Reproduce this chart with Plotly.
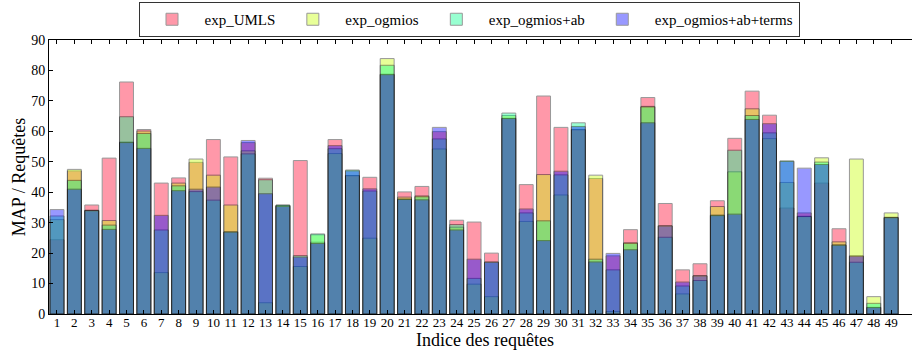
import plotly.graph_objects as go

queries = list(range(1, 50))
tick_labels = [str(q) for q in queries]

exp_UMLS = [24.4, 47.0, 35.8, 51.2, 76.2, 60.6, 43.0, 44.7, 49.8, 57.3, 51.6, 56.3, 44.6, 35.5, 50.4, 23.6, 57.3,
            45.5, 44.9, 78.8, 40.1, 41.9, 59.9, 30.8, 30.2, 20.0, 64.3, 42.5, 71.6, 61.3, 60.6, 44.5, 19.1, 27.7,
            71.1, 36.3, 14.5, 16.5, 37.2, 57.7, 73.2, 65.3, 34.8, 33.2, 43.0, 28.0, 19.1, 2.2, 31.8]
exp_ogmios = [31.0, 47.5, 34.1, 30.7, 56.5, 60.1, 13.6, 43.0, 50.9, 45.6, 35.8, 53.6, 3.7, 35.7, 15.6, 26.0, 52.7,
              45.4, 24.9, 83.9, 38.4, 38.8, 54.2, 28.5, 9.8, 5.7, 65.2, 30.4, 45.8, 39.1, 60.5, 45.6, 0.8, 23.4,
              68.2, 29.0, 6.6, 12.6, 35.3, 46.7, 67.4, 57.6, 43.2, 32.1, 51.3, 23.7, 50.9, 5.7, 33.2]
exp_ogmios_ab = [32.2, 43.9, 34.0, 29.2, 64.8, 59.3, 27.6, 42.1, 40.2, 37.4, 27.0, 52.6, 44.1, 35.8, 19.2, 26.3, 54.3,
                 47.3, 40.4, 81.7, 37.8, 38.5, 57.5, 29.4, 11.7, 17.1, 66.0, 33.2, 30.6, 45.7, 62.8, 18.0, 14.5, 23.2,
                 68.0, 25.2, 9.2, 11.0, 32.5, 53.8, 65.2, 59.5, 50.3, 32.0, 49.9, 22.7, 17.0, 3.5, 31.7]
exp_ogmios_ab_terms = [34.3, 41.0, 33.9, 27.8, 56.3, 54.4, 32.4, 40.5, 41.0, 41.7, 26.9, 57.0, 39.5, 35.4, 18.7, 23.2,
                       55.3, 47.0, 41.1, 78.6, 37.6, 37.5, 61.3, 27.6, 18.0, 17.0, 64.2, 34.5, 24.1, 46.9, 61.6, 17.1,
                       19.9, 21.1, 62.8, 28.9, 10.5, 12.5, 32.3, 32.8, 63.9, 62.5, 50.1, 47.9, 49.1, 22.6, 19.0, 2.1,
                       31.6]

series = [
    ("exp_UMLS", exp_UMLS, "#ff002b"),
    ("exp_ogmios", exp_ogmios, "#c8ff00"),
    ("exp_ogmios+ab", exp_ogmios_ab, "#00ff8e"),
    ("exp_ogmios+ab+terms", exp_ogmios_ab_terms, "#0000ff"),
]

FONT = "Liberation Serif"

fig = go.Figure()
for name, vals, col in series:
    fig.add_trace(go.Bar(
        x=queries, y=vals, name=name, width=0.8,
        marker=dict(color=col, line=dict(color="black", width=1)),
        opacity=0.4,
    ))

fig.update_layout(
    width=912, height=352,
    barmode="overlay",
    plot_bgcolor="white", paper_bgcolor="white",
    margin=dict(l=49, r=0, t=40, b=38, autoexpand=False),
    font=dict(family=FONT, size=14, color="black"),
    legend=dict(
        orientation="h", x=(469 - 49) / 863, xanchor="center", y=(314 - 2) / 274, yanchor="top",
        bordercolor="#333", borderwidth=1, bgcolor="white",
        font=dict(family=FONT, size=15),
        itemwidth=55,
    ),
    xaxis=dict(
        range=[0.54, 50.2], tickmode="array", tickvals=queries, ticktext=tick_labels, tickangle=0,
        ticks="inside", ticklen=4, tickcolor="black", showline=True, linecolor="black", linewidth=1,
        mirror="ticks", showgrid=False, zeroline=False, automargin=False, ticklabelstandoff=-4,
        tickfont=dict(family=FONT, size=13),
    ),
    yaxis=dict(
        range=[0, 90], dtick=10, ticks="inside", ticklen=4, tickcolor="black",
        showline=True, linecolor="black", linewidth=1, showgrid=False, zeroline=False, automargin=False,
        title=dict(text="MAP / Requêtes", font=dict(family=FONT, size=18), standoff=0),
        tickfont=dict(family=FONT, size=14),
    ),
    annotations=[dict(
        text="Indice des requêtes", xref="paper", yref="paper", x=(485 - 49) / 863, y=(314 - 352) / 274,
        xanchor="center", yanchor="bottom", showarrow=False, font=dict(family=FONT, size=18),
    )],
)

fig.write_html(
    "out.html",
    config={"displayModeBar": False},
    post_script="document.body.style.margin='0';document.body.style.padding='0';",
)
